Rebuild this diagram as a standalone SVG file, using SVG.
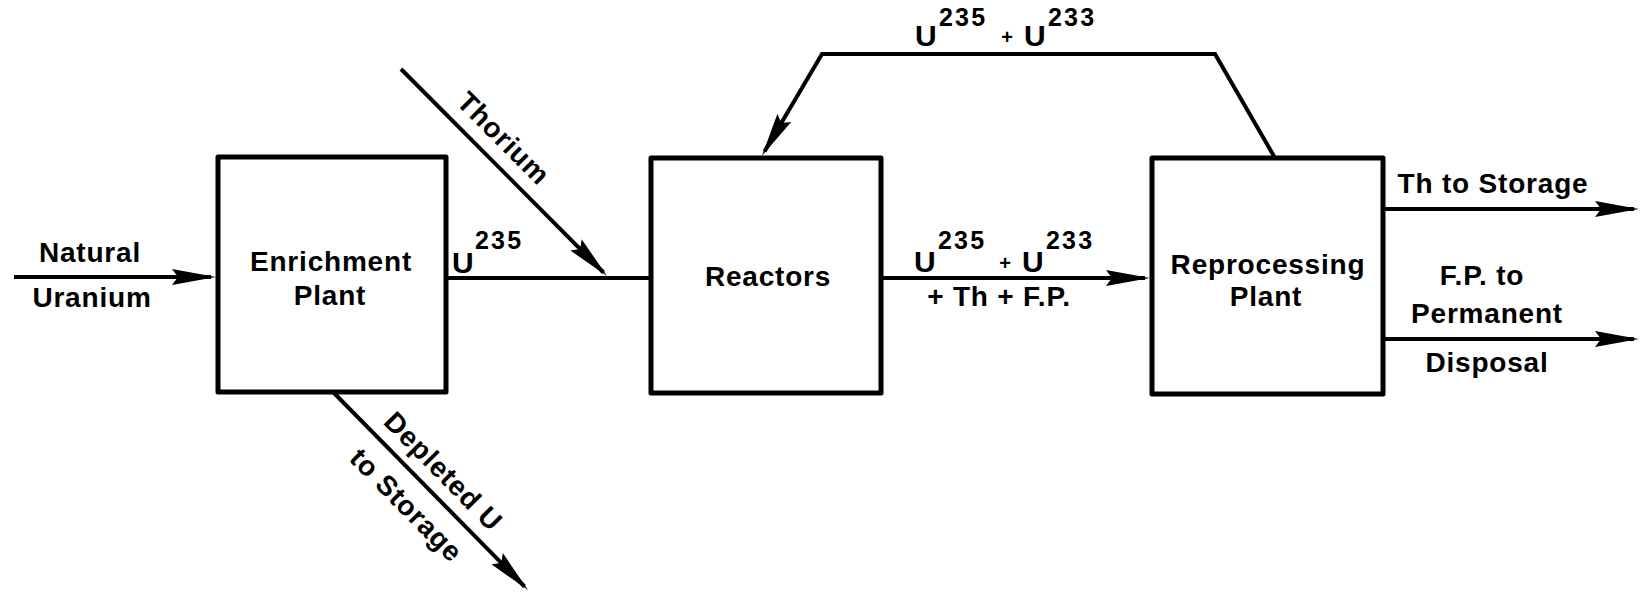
<svg xmlns="http://www.w3.org/2000/svg" width="1640" height="595" viewBox="0 0 1640 595">
<defs>
<style>
.box{fill:#fff;stroke:#000;stroke-width:5;stroke-linejoin:round}
.ln{fill:none;stroke:#000;stroke-width:4;stroke-linejoin:miter}
.arr{marker-end:url(#ah)}
text{font-family:"Liberation Sans",Arial,Helvetica,sans-serif;font-weight:bold;font-size:28px;letter-spacing:0.8px;fill:#000}
.c{text-anchor:middle}
.u{font-size:30px;letter-spacing:0}
.sup{font-size:25px;letter-spacing:2.2px}
.pl{font-size:20px;letter-spacing:0}
</style>
<marker id="ah" markerUnits="userSpaceOnUse" viewBox="0 -9 46 18" markerWidth="46" markerHeight="18" refX="39" refY="0" orient="auto">
<path d="M0,-8 L44,0 L0,8 L6,0 z" fill="#000"/>
</marker>
</defs>
<rect width="1640" height="595" fill="#fff"/>

<g id="connectors">
<path class="ln arr" d="M14,277 L211,277"/>
<path class="ln" d="M446,278 L651,278"/>
<path class="ln arr" d="M401,69 L603.5,272.5"/>
<path class="ln arr" d="M333,392 L524.5,586.5"/>
<path class="ln arr" d="M881,278 L1145,278"/>
<path class="ln arr" d="M1275,158 L1215,54 L822,54 L764.5,151.5"/>
<path class="ln arr" d="M1383,209 L1634,209"/>
<path class="ln arr" d="M1383,339 L1634,339"/>
</g>

<g id="enrichment">
<rect class="box" x="218" y="157" width="228" height="235"/>
<text class="c" x="331" y="271">Enrichment</text>
<text class="c" x="330" y="305">Plant</text>
</g>

<g id="reactors">
<rect class="box" x="651" y="158" width="230" height="235"/>
<text class="c" x="768" y="286">Reactors</text>
</g>

<g id="reprocessing">
<rect class="box" x="1152" y="158" width="231" height="236"/>
<text class="c" x="1268" y="274">Reprocessing</text>
<text class="c" x="1266" y="306">Plant</text>
</g>

<g id="labels">
<text class="c" x="90" y="262">Natural</text>
<text class="c" x="92" y="307">Uranium</text>

<text class="u" x="452" y="273">U</text>
<text class="sup" x="475" y="249">235</text>

<text class="c" transform="translate(401,69) rotate(45)" x="121.5" y="-14">Thorium</text>

<text class="c" transform="translate(333,392) rotate(45.3)" x="134" y="-13">Depleted U</text>
<text class="c" transform="translate(333,392) rotate(45.3)" x="132" y="37">to Storage</text>

<text class="u" x="915" y="46">U</text>
<text class="sup" x="939" y="26">235</text>
<text class="pl c" x="1007" y="44">+</text>
<text class="u" x="1024" y="46">U</text>
<text class="sup" x="1048" y="26">233</text>

<text class="u" x="914" y="272">U</text>
<text class="sup" x="938" y="249">235</text>
<text class="pl c" x="1005" y="270">+</text>
<text class="u" x="1022" y="272">U</text>
<text class="sup" x="1046" y="249">233</text>
<text class="c" x="999" y="306">+ Th + F.P.</text>

<text class="c" x="1493" y="193">Th to Storage</text>
<text class="c" x="1482" y="285">F.P. to</text>
<text class="c" x="1487" y="323">Permanent</text>
<text class="c" x="1487" y="372">Disposal</text>
</g>
</svg>
